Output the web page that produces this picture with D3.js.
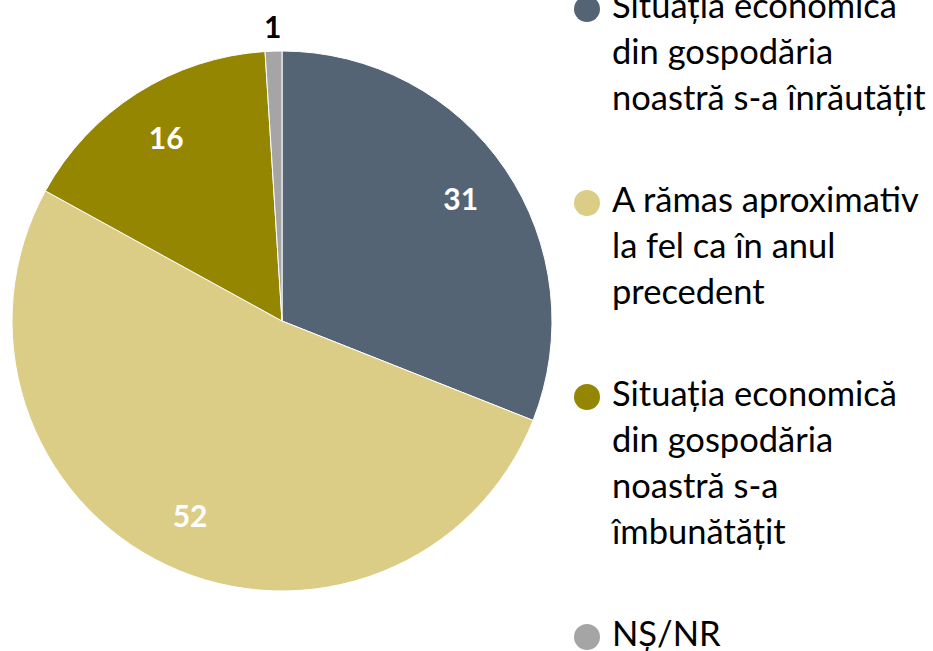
<!DOCTYPE html>
<html>
<head>
<meta charset="utf-8">
<script src="https://cdn.jsdelivr.net/npm/d3@7"></script>
<style>
  body { margin: 0; background: #fff; }
  svg { display: block; font-family: Lato, "Noto Sans", sans-serif; }
</style>
</head>
<body>
<div id="chart"></div>
<script>
// data
const categories = [
  "Situația economică din gospodăria noastră s-a înrăutățit",
  "A rămas aproximativ la fel ca în anul precedent",
  "Situația economică din gospodăria noastră s-a îmbunătățit",
  "NȘ/NR"
];
const values = [31, 52, 16, 1];
const legendLines = [
  ["Situația economică", "din gospodăria", "noastră s-a înrăutățit"],
  ["A rămas aproximativ", "la fel ca în anul", "precedent"],
  ["Situația economică", "din gospodăria", "noastră s-a", "îmbunătățit"],
  ["NȘ/NR"]
];
const colors = ["#546475", "#dbcd85", "#948600", "#a5a5a5"];

const width = 933, height = 651;
const cx = 282, cy = 321, radius = 270;

const svg = d3.select("#chart")
  .append("svg")
    .attr("width", width)
    .attr("height", height);

const g = svg.append("g")
  .attr("transform", `translate(${cx},${cy})`);

const pie = d3.pie().sort(null).value(d => d);
const arcs = pie(values);

const arc = d3.arc().innerRadius(0).outerRadius(radius);
const labelArc = d3.arc().innerRadius(radius * 0.8).outerRadius(radius * 0.8);
const outerArc = d3.arc().innerRadius(radius * 1.09).outerRadius(radius * 1.09);

g.selectAll("path")
  .data(arcs)
  .join("path")
    .attr("d", arc)
    .attr("fill", (d, i) => colors[i])
    .attr("stroke", "#fff")
    .attr("stroke-width", 1);

// value labels, small slice goes outside
g.selectAll("text.val")
  .data(arcs)
  .join("text")
    .attr("class", "val")
    .attr("transform", d => {
      const c = d.data < 5 ? outerArc.centroid(d) : labelArc.centroid(d);
      return `translate(${c})`;
    })
    .attr("text-anchor", "middle")
    .attr("dy", "0.36em")
    .attr("font-size", 30)
    .attr("font-weight", "bold")
    .attr("fill", d => d.data < 5 ? "#000" : "#fff")
    .text(d => d.data);

// legend
const lh = 46, gap = 56;
const legend = svg.append("g").attr("transform", "translate(587,0)");
let yPos = 18;
legendLines.forEach((lines, i) => {
  const item = legend.append("g").attr("transform", `translate(0,${yPos})`);
  item.append("circle")
    .attr("cx", 0)
    .attr("cy", -9)
    .attr("r", 13)
    .attr("fill", colors[i]);
  const t = item.append("text")
    .attr("font-size", 34.5)
    .attr("fill", "#000");
  lines.forEach((ln, j) => {
    t.append("tspan").attr("x", 25).attr("y", j * lh).text(ln);
  });
  yPos += lines.length * lh + gap;
});
</script>
</body>
</html>
